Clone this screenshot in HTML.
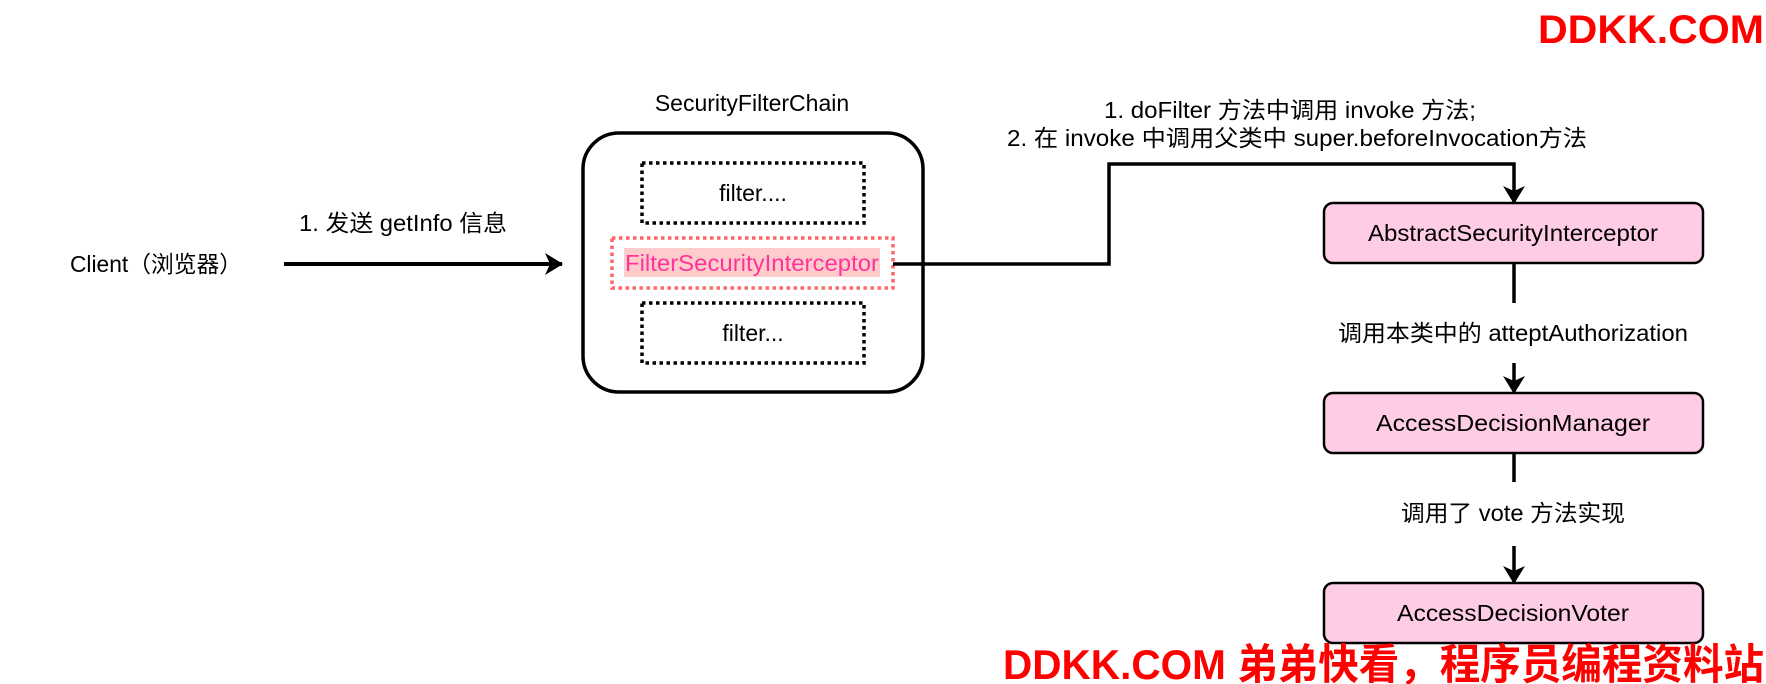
<!DOCTYPE html>
<html><head><meta charset="utf-8"><style>
html,body{margin:0;padding:0;background:#fff;}
svg{display:block}
text{font-family:"Liberation Sans","Noto Sans CJK SC",sans-serif;}
</style></head><body>
<svg width="1766" height="684" viewBox="0 0 1766 684" xmlns="http://www.w3.org/2000/svg">
<defs>
<marker id="ah" markerWidth="18" markerHeight="22" refX="17" refY="11" orient="auto" markerUnits="userSpaceOnUse">
<path d="M0,0 L18,11 L0,22 L5,11 Z" fill="#000"/>
</marker>
</defs>
<text x="1764" y="43" font-size="40" font-weight="bold" fill="#ff0000" text-anchor="end" textLength="226" lengthAdjust="spacingAndGlyphs">DDKK.COM</text>

<text x="752" y="111" font-size="23" text-anchor="middle">SecurityFilterChain</text>
<rect x="583" y="133" width="340" height="259" rx="36" fill="none" stroke="#000" stroke-width="3.5"/>
<rect x="642" y="163" width="222" height="60" fill="none" stroke="#000" stroke-width="3.5" stroke-dasharray="3.5,3.5"/>
<text x="753" y="201" font-size="23" text-anchor="middle">filter....</text>
<rect x="612" y="238" width="281" height="50" fill="none" stroke="#ff6666" stroke-width="3.5" stroke-dasharray="3.5,3.5"/>
<rect x="624" y="248" width="256" height="29" fill="#ffcccc"/>
<text x="752" y="271" font-size="23" fill="#ff3399" text-anchor="middle" textLength="254" lengthAdjust="spacingAndGlyphs">FilterSecurityInterceptor</text>
<rect x="642" y="303" width="222" height="60" fill="none" stroke="#000" stroke-width="3.5" stroke-dasharray="3.5,3.5"/>
<text x="753" y="341" font-size="23" text-anchor="middle">filter...</text>

<text x="70" y="272" font-size="23" textLength="172" lengthAdjust="spacingAndGlyphs">Client（浏览器）</text>
<line x1="284" y1="264" x2="562" y2="264" stroke="#000" stroke-width="4" marker-end="url(#ah)"/>
<text x="403" y="231" font-size="23" text-anchor="middle" textLength="208" lengthAdjust="spacingAndGlyphs">1. 发送 getInfo 信息</text>

<polyline points="893,264 1109,264 1109,164 1514,164 1514,203" fill="none" stroke="#000" stroke-width="3.5" marker-end="url(#ah)"/>
<text x="1290" y="118" font-size="23" text-anchor="middle" textLength="372" lengthAdjust="spacingAndGlyphs">1. doFilter 方法中调用 invoke 方法;</text>
<text x="1297" y="146" font-size="23" text-anchor="middle" textLength="580" lengthAdjust="spacingAndGlyphs">2. 在 invoke 中调用父类中 super.beforeInvocation方法</text>

<rect x="1324" y="203" width="379" height="60" rx="9" fill="#ffcce6" stroke="#000" stroke-width="2.5"/>
<text x="1513" y="241" font-size="23" text-anchor="middle" textLength="290" lengthAdjust="spacingAndGlyphs">AbstractSecurityInterceptor</text>
<line x1="1514" y1="263" x2="1514" y2="303" stroke="#000" stroke-width="3.5"/>
<text x="1513" y="341" font-size="23" text-anchor="middle" textLength="350" lengthAdjust="spacingAndGlyphs">调用本类中的 atteptAuthorization</text>
<line x1="1514" y1="363" x2="1514" y2="393" stroke="#000" stroke-width="3.5" marker-end="url(#ah)"/>

<rect x="1324" y="393" width="379" height="60" rx="9" fill="#ffcce6" stroke="#000" stroke-width="2.5"/>
<text x="1513" y="431" font-size="23" text-anchor="middle" textLength="274" lengthAdjust="spacingAndGlyphs">AccessDecisionManager</text>
<line x1="1514" y1="453" x2="1514" y2="482" stroke="#000" stroke-width="3.5"/>
<text x="1513" y="521" font-size="23" text-anchor="middle" textLength="224" lengthAdjust="spacingAndGlyphs">调用了 vote 方法实现</text>
<line x1="1514" y1="546" x2="1514" y2="583" stroke="#000" stroke-width="3.5" marker-end="url(#ah)"/>

<rect x="1324" y="583" width="379" height="60" rx="9" fill="#ffcce6" stroke="#000" stroke-width="2.5"/>
<text x="1513" y="621" font-size="23" text-anchor="middle" textLength="232" lengthAdjust="spacingAndGlyphs">AccessDecisionVoter</text>

<text x="1003" y="679" font-size="42" font-weight="bold" fill="#ff0000" textLength="761" lengthAdjust="spacingAndGlyphs">DDKK.COM 弟弟快看，程序员编程资料站</text>
</svg>
</body></html>
